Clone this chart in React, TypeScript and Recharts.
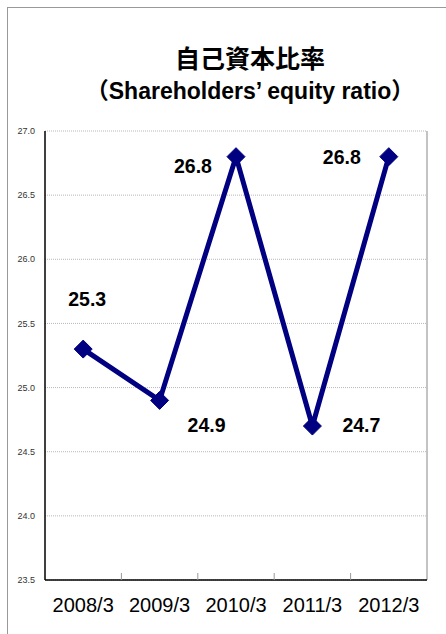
import React from 'react';
import { LineChart, Line, XAxis, YAxis, CartesianGrid, LabelList } from 'recharts';

const categories = ['2008/3', '2009/3', '2010/3', '2011/3', '2012/3'];
const ratioValues = [25.3, 24.9, 26.8, 24.7, 26.8];
const yTicks = [23.5, 24.0, 24.5, 25.0, 25.5, 26.0, 26.5, 27.0];
const titleText = '自己資本比率';
const subtitleText = '（Shareholders’ equity ratio）';

const data = categories.map((c, i) => ({ idx: i + 1, name: c, value: ratioValues[i] }));
const labelTicks = categories.map((_, i) => i + 1);
const sepTicks = categories.slice(1).map((_, i) => i + 1.5);

// label placement relative to each point (style config)
const labelOffsets: [number, number][] = [
  [4, -50],
  [47, 25],
  [-43, 9],
  [49, -1],
  [-47, 0],
];

const W = 446;
const H = 634;

const DiamondDot = (props: any) => {
  const { cx, cy } = props;
  if (cx == null || cy == null) return null;
  const r = 9;
  return (
    <path
      d={`M${cx},${cy - r} L${cx + r},${cy} L${cx},${cy + r} L${cx - r},${cy} Z`}
      fill="#000080"
      stroke="#000080"
    />
  );
};

const ValueLabel = (props: any) => {
  const { x, y, value, index } = props;
  const [dx, dy] = labelOffsets[index] || [0, 0];
  return (
    <text
      x={x + dx}
      y={y + dy}
      textAnchor="middle"
      dominantBaseline="central"
      fontFamily="'Liberation Sans', Arial, sans-serif"
      fontWeight="bold"
      fontSize={19.5}
      fill="#000"
    >
      {Number(value).toFixed(1)}
    </text>
  );
};

export default function App() {
  return (
    <div style={{ position: 'absolute', left: 0, top: 0, width: W, height: H, background: '#fff' }}>
      <div style={{ position: 'absolute', left: 7, top: 7, width: W - 7, height: H - 7, borderTop: '1px solid #999', borderLeft: '1px solid #999' }} />
      <div
        style={{
          position: 'absolute', left: 0, width: 500, top: 40, textAlign: 'center',
          fontFamily: "'Noto Sans CJK JP', sans-serif", fontWeight: 'bold', fontSize: 25, lineHeight: '34px', color: '#000',
        }}
      >
        {titleText}
      </div>
      <div
        style={{
          position: 'absolute', left: 0, width: 500, top: 76, textAlign: 'center',
          fontFamily: "'Liberation Sans', 'Noto Sans CJK JP', sans-serif", fontWeight: 'bold', fontSize: 23, lineHeight: '30px', color: '#000',
        }}
      >
        {subtitleText}
      </div>
      <div style={{ position: 'absolute', left: 0, top: 0 }}>
        <LineChart width={W} height={H} data={data} margin={{ top: 131, right: 19, bottom: 14, left: 0 }}>
          <CartesianGrid xAxisId="lab" yAxisId="left" vertical={false} stroke="#b8b8b8" strokeDasharray="1 1" />
          <CartesianGrid
            xAxisId="lab"
            yAxisId="left"
            horizontal={false}
            stroke="#888"
            verticalCoordinatesGenerator={({ offset }: any) => [offset.left + offset.width]}
          />
          <XAxis
            xAxisId="lab"
            dataKey="idx"
            type="number"
            domain={[0.5, 5.5]}
            ticks={labelTicks}
            height={40}
            axisLine={{ stroke: '#000', strokeWidth: 1.5 }}
            tickLine={false}
            tickSize={0}
            tickMargin={18}
            tickFormatter={(v: number) => categories[v - 1]}
            tick={{ fontSize: 20, fill: '#000', fontFamily: "'Liberation Sans', Arial, sans-serif" }}
            interval={0}
          />
          <XAxis
            xAxisId="sep"
            dataKey="idx"
            type="number"
            domain={[0.5, 5.5]}
            ticks={sepTicks}
            mirror
            height={1}
            axisLine={false}
            tickSize={7}
            tickLine={{ stroke: '#999' }}
            tickFormatter={() => ''}
            interval={0}
          />
          <YAxis
            yAxisId="left"
            domain={[23.5, 27]}
            ticks={yTicks}
            width={45}
            axisLine={{ stroke: '#000', strokeWidth: 1.5 }}
            tickLine={false}
            tickSize={8}
            tickMargin={2}
            tickFormatter={(v: number) => v.toFixed(1)}
            tick={{ fontSize: 9, fill: '#333', fontFamily: "'Liberation Sans', Arial, sans-serif" }}
            interval={0}
          />
          <Line
            xAxisId="lab"
            yAxisId="left"
            dataKey="value"
            stroke="#000080"
            strokeWidth={5}
            dot={<DiamondDot />}
            activeDot={false}
            isAnimationActive={false}
          >
            <LabelList dataKey="value" content={<ValueLabel />} />
          </Line>
        </LineChart>
      </div>
    </div>
  );
}
